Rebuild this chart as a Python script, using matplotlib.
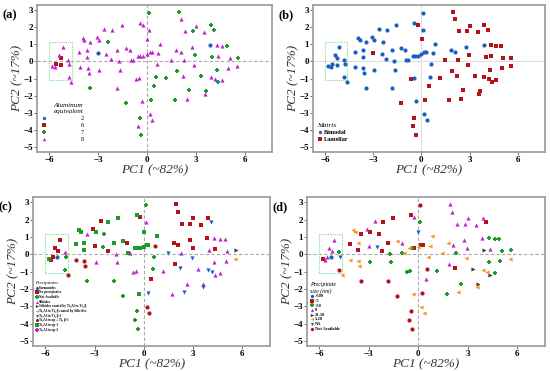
import matplotlib
matplotlib.use("Agg")
import matplotlib.pyplot as plt
from matplotlib.patches import Rectangle

plt.rcParams['font.family'] = ['Liberation Serif', 'DejaVu Serif']

# PCA scores (same samples in every panel)
pc1 = [0.12, -0.43, -1.55, 0.12, -2.61, -2.15, -3.08, -2.92, -3.93, -3.83,
       -3.46, -2.40, -5.13, -4.14, -3.66, -1.84, -1.26, -1.01, 0.83, 0.70,
       0.19, 0.29, 0.00, -0.23, -0.39, -0.54, -0.85, -0.95, -1.70, -2.19,
       -2.48, -3.66, -5.38, -4.82, -5.55, -5.26, -4.76, -5.80, -5.63, -4.80,
       -4.64, -4.12, -3.62, -3.56, -2.92, -3.46, -1.66, -1.80, -0.48, -0.31,
       0.62, 0.54, 0.17, 0.33, 1.82, 2.09, 2.80, 3.87, -5.24, -3.00,
       1.95, 2.07, -0.23, 2.34, 2.84, 3.02, 3.52, 3.91, 4.12, 0.02,
       4.31, 4.64, 4.93, 2.98, 4.00, 4.35, 5.09, 5.61, 1.47, 2.28,
       2.92, 1.88, 4.29, 2.24, 3.33, 3.93, 4.18, 4.99, 5.55, 4.64,
       4.37, 1.16, 0.46, -0.66, 2.61, 3.62, 3.60, 1.74, 2.44, 0.23,
       -1.28, -0.43, -0.54, -0.35]
pc2 = [2.84, 2.25, 2.10, 1.86, 1.90, 1.84, 1.45, 1.27, 1.37, 1.27,
       1.14, 1.16, 0.84, 0.57, 0.65, 0.65, 0.78, 0.65, 1.04, 0.47,
       0.53, 0.53, 0.43, 0.33, 0.33, 0.33, 0.08, 0.08, 0.02, 0.16,
       0.41, 0.25, 0.35, 0.10, -0.16, -0.18, -0.16, -0.27, -0.35, -0.92,
       -1.22, -0.33, -0.39, -0.69, -0.47, -1.53, -0.47, -1.57, -0.98, -2.31,
       -0.16, -0.88, -3.04, -3.39, 0.65, 0.53, 0.82, 0.94, 0.18, 0.49,
       2.88, 2.45, 2.14, 1.76, 1.76, 2.08, 1.69, 2.10, 1.84, 1.31,
       0.94, 0.90, 0.88, 0.35, 0.25, 0.29, 0.18, 0.23, 0.08, 0.06,
       -0.22, -0.55, -0.47, -0.82, -0.86, -0.92, -1.00, -0.39, -0.27, -1.06,
       -1.20, -0.94, -1.41, -1.00, -1.69, -1.73, -1.88, -2.27, -2.16, -2.25,
       -2.41, -3.29, -3.78, -4.31]

al_eq = ['7', '8', '8', '8', '8', '8', '8', '8', '8', '8',
         '8', '7', '8', '8', '8', '8', '8', '8', '8', '8',
         '8', '8', '8', '8', '8', '8', '8', '8', '8', '8',
         '8', '8', '8', '8', '6', '6', '8', '8', '8', '8',
         '8', '8', '8', '8', '8', '7', '8', '8', '8', '8',
         '8', '7', '8', '8', '8', '8', '8', '2', '6', '2',
         '7', '8', '8', '8', '7', '8', '8', '7', '7', '8',
         '8', '8', '7', '7', '7', '8', '8', '7', '8', '8',
         '8', '7', '7', '8', '7', '8', '8', '8', '8', '8',
         '7', '7', '7', '8', '7', '7', '8', '7', '8', '7',
         '7', '7', '8', '7']
matrix = ['Bimodal'] * 59 + ['Lamellar'] * 45

precip = ['NA', 'A1', 'A1', 'Si', 'NP', 'A1', 'NP', 'A1', 'A1', 'A1',
          'Si', 'NA', 'NP', 'A1', 'A1', 'A1', 'A1', 'NP', 'A1', 'AB',
          'A1', 'A1', 'A1', 'A1', 'A1', 'A1', 'Si', 'A1', 'Si', 'NP',
          'NA', 'A1', 'NP', 'Si', 'NP', 'Ge', 'NA', 'A1', 'NP', 'NA',
          'AB', 'AB', 'AB', 'AB', 'Si', 'NA', 'Si', 'NA', 'Si', 'A1',
          'NA', 'NA', 'AB', 'AB', 'NP', 'NP', 'NP', 'NP', 'NP', 'NP',
          'NP', 'NP', 'NP', 'NP', 'NP', 'NP', 'NP', 'NP', 'B3', 'A1',
          'Si', 'Si', 'Si', 'NP', 'Si', 'NP', 'Si', 'SC', 'B3', 'Si',
          'B3', 'NP', 'Si', 'B3', 'Si', 'B3', 'B3', 'Si', 'TC', 'Si',
          'Si', 'Si', 'NP', 'Si', 'Si', 'Si', 'B3', 'Si', 'B3', 'B3',
          'NA', 'NA', 'NA', 'NA']

size = ['NAv', '<5', '<5', '>50', '0', '<5', '0', '<5', '5-20', '5-20',
        '<5', '<5', '0', '<5', '5-20', '<5', '5-20', '0', '5-20', '5-20',
        '<5', '<5', '5-20', '<5', '>50', '5-20', '5-20', '>50', '>50', '<5',
        'NA', '<5', '0', '>50', '0', '>500', 'NA', '<5', '0', 'NAv',
        '5-20', '5-20', '5-20', '5-20', '>50', 'NAv', '>50', 'NAv', '>50', '5-20',
        '5-20', 'NAv', '5-20', '5-20', '5-20', '0', '0', '0', '0', '0',
        '0', '0', '0', '0', '0', '0', '0', '0', '<5', 'NA',
        '>50', '>50', '>50', '0', '21-50', '0', '>50', '>50', '5-20', '>50',
        '5-20', '0', '>50', '<5', '21-50', '5-20', '5-20', '>50', '5-20', '>50',
        '21-50', '>50', '0', '>50', '>50', '21-50', '5-20', '>50', '5-20', 'NAv',
        'NAv', 'NAv', 'NAv', 'NAv']

BLUE, RED, GREEN, PURP = '#1b5fc1', '#b5121b', '#1c9a2a', '#c21fd0'
DARK, ORNG = '#3c3c3c', '#f7941d'

# category -> (legend label, colour, marker)
a_keys = [('2', '2', BLUE, 'o'), ('6', '6', RED, 's'),
          ('7', '7', GREEN, 'P'), ('8', '8', PURP, '^')]
b_keys = [('Bimodal', 'Bimodal', BLUE, 'o'), ('Lamellar', 'Lamellar', RED, 's')]
c_keys = [('Ge', 'Germanides', BLUE, 'o'),
          ('NP', 'No precipitates', RED, 's'),
          ('NA', 'Not Available', GREEN, 'P'),
          ('Si', 'Silicides', PURP, '^'),
          ('SC', 'Silicides coated by Ti₃Al in Ti₂ β', DARK, '>'),
          ('TC', 'Ti₃Al in Ti₂ β coated by Silicides', ORNG, '<'),
          ('B3', 'Ti₃Al in Ti₂ β-3', BLUE, 'v'),
          ('AB', 'Ti₃Al in αp + Ti₂ β-1', RED, 'o'),
          ('A1', 'Ti₃Al in αp-1', GREEN, 's'),
          ('A2', 'Ti₃Al in αp-2', PURP, 'P')]
d_keys = [('>500', '>500', BLUE, 'o'), ('<5', '<5', RED, 's'),
          ('>50', '>50', GREEN, 'P'), ('0', '0', PURP, '^'),
          ('21-50', '21-50', DARK, '>'), ('5-20', '5-20', ORNG, '<'),
          ('NA', 'NA', BLUE, 'v'), ('NAv', 'Not Available', RED, 'o')]

fig = plt.figure(figsize=(5.5, 3.71), dpi=100)
rects = [[0.067, 0.590, 0.428, 0.397], [0.569, 0.590, 0.422, 0.397],
         [0.060, 0.068, 0.431, 0.401], [0.558, 0.068, 0.433, 0.401]]
letters = ['(a)', '(b)', '(c)', '(d)']
groups = [al_eq, matrix, precip, size]
keysets = [a_keys, b_keys, c_keys, d_keys]
titles = ['Aluminum\nequivalent', 'Matrix', 'Precipitates', 'Precipitate\nsize (nm)']


def panel(ax, cats, keys, title, idx):
    for k, lab, col, mk in keys:
        xs = [x for x, c in zip(pc1, cats) if c == k]
        ys = [y for y, c in zip(pc2, cats) if c == k]
        ax.scatter(xs, ys, s=9, c=col, marker=mk, linewidths=0, label=lab, zorder=3)
    ls = '-' if idx == 1 else (0, (3, 2))
    lc = '#dddddd' if idx == 1 else '#aaaaaa'
    ax.axhline(0, color=lc, lw=0.8, ls=ls, zorder=1)
    ax.axvline(0, color=lc, lw=0.8, ls=ls, zorder=1)
    ax.add_patch(Rectangle((-6.0, -1.1), 1.38, 2.25, fill=False, ec='#7ddc8a',
                           lw=0.8, ls=(0, (1, 1)), zorder=2))
    ax.set_xlim(-6.75, 7.7)
    ax.set_ylim(-5.28, 3.3)
    ax.set_xticks([-6, -3, 0, 3, 6])
    ax.set_yticks(range(-5, 4))
    ax.tick_params(labelsize=6.5, length=2, width=0.6, pad=1, color='#555555')
    for t in ax.get_xticklabels() + ax.get_yticklabels():
        t.set_fontweight('bold')
    for s in ax.spines.values():
        s.set_color('#999999')
        s.set_linewidth(1.2)
    ax.set_xlabel('PC1 (~82%)', fontsize=9.5, style='italic', labelpad=0, color='#333333')
    ax.set_ylabel('PC2 (~17%)', fontsize=9.5, style='italic', labelpad=0, color='#333333')
    if idx == 2:
        fs, sp, ms, y0, tfs = 2.4, 0.2, 0.75, 0.08, 3.4
    elif idx == 3:
        fs, sp, ms, y0, tfs = 3.2, 0.12, 0.8, 0.08, 4.2
    elif idx == 1:
        fs, sp, ms, y0, tfs = 4.5, 0.25, 0.8, 0.04, 5.1
    else:
        fs, sp, ms, y0, tfs = 4.5, 0.25, 0.8, 0.04, 5.1
    leg = ax.legend(loc='lower left', bbox_to_anchor=(0.0, y0), frameon=False,
                    fontsize=fs, title=title,
                    title_fontproperties={'size': tfs, 'style': 'italic'},
                    handletextpad=0.3 if idx != 0 else 5.5, labelspacing=sp,
                    markerscale=ms, borderpad=0.2, handlelength=0.8,
                    alignment='right' if idx == 0 else 'left')
    if idx != 0:
        for t in leg.get_texts():
            t.set_fontweight('bold')


for i in range(4):
    ax = fig.add_axes(rects[i])
    panel(ax, groups[i], keysets[i], titles[i], i)
    fig.text(rects[i][0] - 0.062, rects[i][1] + rects[i][3] - 0.035, letters[i],
             fontsize=9, fontweight='bold')

fig.savefig('out.png', dpi=100)
